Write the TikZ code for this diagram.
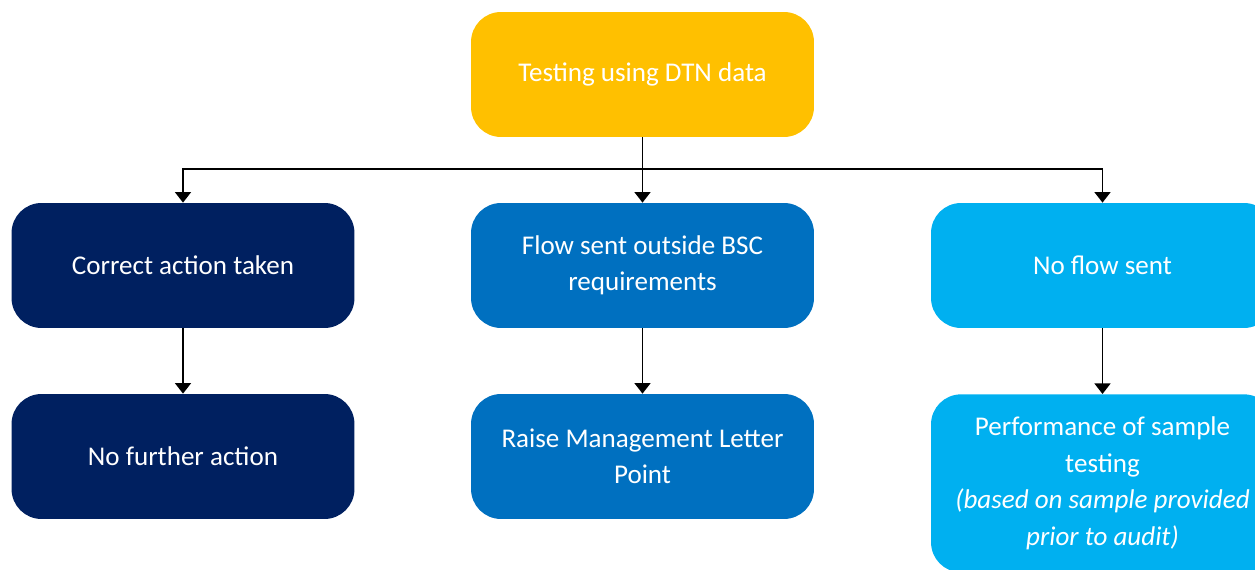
\documentclass[tikz,border=0pt]{standalone}
\usepackage{fontspec}
\setmainfont{Carlito}
\usepackage{tikz}
\usetikzlibrary{arrows.meta}
\definecolor{gold}{HTML}{FFC000}
\definecolor{navy}{HTML}{002060}
\definecolor{midblue}{HTML}{0070C0}
\definecolor{skyblue}{HTML}{00B0F0}
\tikzset{
  box/.style={rounded corners=0.6cm, minimum width=6.86cm, minimum height=2.5cm,
    align=center, text=white, inner sep=2pt,
    font=\fontsize{15.4}{20.7}\selectfont},
  link/.style={draw=black, line width=1.1pt},
  arr/.style={link, -{Triangle[width=9pt,length=6pt]}},
}
\begin{document}
\begin{tikzpicture}[x=0.02cm, y=-0.02cm]
  \useasboundingbox (0,0) rectangle (1255,570);
  \clip (0,0) rectangle (1255,570);

  \node[box, fill=gold] (dtn) at (642.5,74.5) {Testing using DTN data};

  \node[box, fill=navy] (correct) at (183,265.5) {Correct action taken};
  \node[box, fill=midblue] (outside) at (642.5,265.5) {Flow sent outside BSC\\requirements};
  \node[box, fill=skyblue] (noflow) at (1102.5,265.5) {No flow sent};

  \node[box, fill=navy] (nofurther) at (183,456.5) {No further action};
  \node[box, fill=midblue] (raise) at (642.5,456.5) {Raise Management Letter\\Point};
  \node[box, fill=skyblue, minimum height=3.56cm, anchor=north] (sample) at (1102.5,394)
    {Performance of sample\\testing\\\textit{(based on sample provided}\\\textit{prior to audit)}};

  \coordinate (fork) at (642.5,169);
  \draw[link] (dtn) -- (fork);
  \draw[arr] (fork) -| (correct);
  \draw[arr] (fork) -- (outside);
  \draw[arr] (fork) -| (noflow);

  \draw[arr] (correct) -- (nofurther);
  \draw[arr] (outside) -- (raise);
  \draw[arr] (noflow) -- (sample);
\end{tikzpicture}
\end{document}
